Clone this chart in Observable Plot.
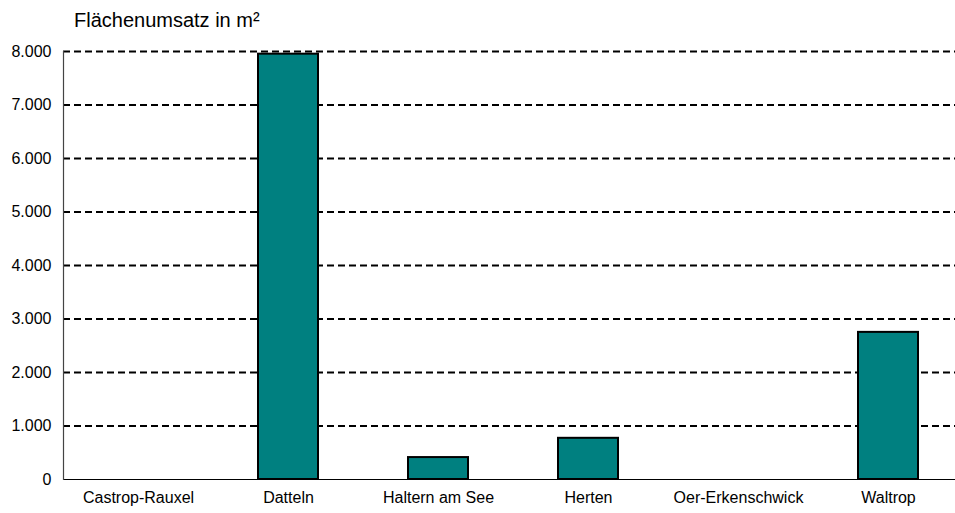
<!DOCTYPE html>
<html>
<head>
<meta charset="utf-8">
<script src="https://cdn.jsdelivr.net/npm/d3@7"></script>
<script src="https://cdn.jsdelivr.net/npm/@observablehq/plot@0.6"></script>
<style>
  html, body { margin: 0; padding: 0; background: #fff; overflow: hidden; }
  body { width: 955px; height: 513px; font-family: "Liberation Sans", Arial, sans-serif; }
  #title { height: 40px; box-sizing: border-box; padding: 8px 0 0 74px; font-size: 20px; line-height: 24px; color: #000; }
  #chart svg { display: block; overflow: hidden; }
</style>
</head>
<body>
<div id="title">Flächenumsatz in m²</div>
<div id="chart"></div>
<script>
// Flächenumsatz je Stadt (m²)
const staedte = ["Castrop-Rauxel", "Datteln", "Haltern am See", "Herten", "Oer-Erkenschwick", "Waltrop"];
const umsatz = [0, 7950, 410, 770, 0, 2750];
const yTicks = [0, 1000, 2000, 3000, 4000, 5000, 6000, 7000, 8000];

const de = d3.formatLocale({decimal: ",", thousands: ".", grouping: [3], currency: ["", " €"]});
const fmt = de.format(",");

const rows = staedte.map((stadt, i) => ({stadt, wert: umsatz[i]}));

const chart = Plot.plot({
  width: 955,
  height: 473,
  marginTop: 11,
  marginBottom: 34,
  marginLeft: 63,
  marginRight: -8,
  style: {fontFamily: "'Liberation Sans', Arial, sans-serif", fontSize: "16px", color: "#000", background: "#fff"},
  x: {domain: staedte, paddingInner: 0.6, paddingOuter: 0.3, label: null},
  y: {domain: [0, 8000], label: null},
  marks: [
    Plot.ruleY(yTicks.filter(d => d > 0), {stroke: "#000", strokeWidth: 2, strokeDasharray: "7,4"}),
    Plot.barY(rows.filter(d => d.wert > 0), {x: "stadt", y: "wert", fill: "#008080", stroke: "#000", strokeWidth: 2}),
    Plot.ruleY([0], {stroke: "#000", strokeWidth: 1.2}),
    Plot.frame({anchor: "left", stroke: "#444", strokeWidth: 1.2}),
    Plot.axisY({ticks: yTicks, tickFormat: fmt, tickSize: 0, tickPadding: 12, label: null, fontSize: 16}),
    Plot.axisX({tickSize: 0, tickPadding: 12, label: null, fontSize: 16})
  ]
});
document.getElementById("chart").append(chart);
</script>
</body>
</html>
